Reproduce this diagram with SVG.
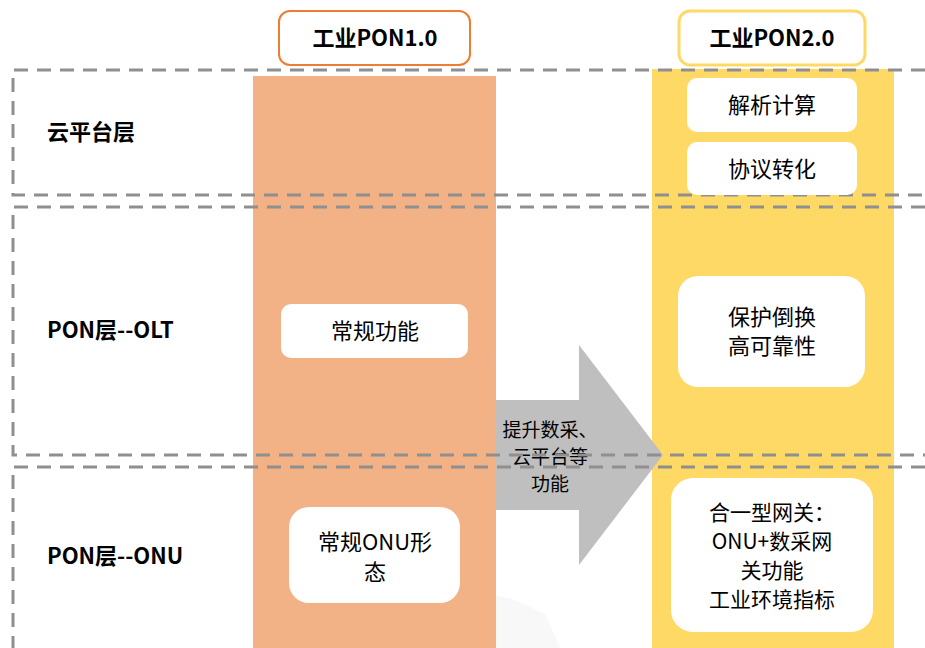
<svg xmlns="http://www.w3.org/2000/svg" width="925" height="648" viewBox="0 0 925 648">
<style>
text{font-family:"Noto Sans CJK SC","Liberation Sans",sans-serif;fill:#000}
.lbl{font-size:22px;font-weight:bold}
.hdr{font-size:22px;font-weight:bold;text-anchor:middle}
.t{font-size:22px;text-anchor:middle}
.t2{font-size:21px;text-anchor:middle}
.at{font-size:19px;text-anchor:middle}
.box{fill:#fff}
.dash{fill:none;stroke:#8f8f8f;stroke-width:3;stroke-dasharray:14 9}
</style>
<rect width="925" height="648" fill="#fff"/>
<path d="M380 648 L395 612 L430 598 L470 592 L510 598 L545 614 L560 648 Z" fill="#f8f8f8"/>
<g id="col1"><rect x="253" y="76" width="243" height="572" fill="#F3B186"/></g>
<g id="col2"><rect x="652" y="69" width="242" height="579" fill="#FFD966"/></g>
<g id="arrow"><polygon points="496,400 579,400 579,345 663,455 579,565 579,510 496,510" fill="#BFBFBF"/>
<text class="at" x="550" y="437">提升数采、</text><text class="at" x="550" y="464">云平台等</text><text class="at" x="550" y="491">功能</text></g>
<g id="layers">
<path class="dash" d="M925 70 H13 V195 H925"/>
<path class="dash" d="M925 207 H13 V455 H925"/>
<path class="dash" d="M925 467 H13 V648"/>
</g>
<g id="h1"><rect x="279" y="11" width="191" height="54" rx="11" fill="#fff" stroke="#ED7D31" stroke-width="2"/><text class="hdr" x="375" y="46">工业PON1.0</text></g>
<g id="h2"><rect x="679" y="11" width="186" height="54" rx="11" fill="#fff" stroke="#FFD966" stroke-width="3"/><text class="hdr" x="772" y="46">工业PON2.0</text></g>
<g id="l1"><text class="lbl" x="47" y="140">云平台层</text></g>
<g id="l2"><text class="lbl" x="47" y="338">PON层--OLT</text></g>
<g id="l3"><text class="lbl" x="47" y="564">PON层--ONU</text></g>
<g id="n1"><rect class="box" x="687" y="78" width="170" height="54" rx="10"/><text class="t" x="772" y="113">解析计算</text></g>
<g id="n2"><rect class="box" x="687" y="142" width="170" height="53" rx="10"/><text class="t" x="772" y="177">协议转化</text></g>
<g id="n3"><rect class="box" x="281" y="304" width="187" height="54" rx="10"/><text class="t" x="375" y="339">常规功能</text></g>
<g id="n4"><rect class="box" x="678" y="276" width="187" height="111" rx="20"/><text class="t" x="772" y="325">保护倒换</text><text class="t" x="772" y="354">高可靠性</text></g>
<g id="n5"><rect class="box" x="289" y="507" width="171" height="96" rx="20"/><text class="t" x="375" y="550">常规ONU形</text><text class="t" x="375" y="580">态</text></g>
<g id="n6"><rect class="box" x="671" y="478" width="202" height="154" rx="22"/><text class="t2" x="772" y="520">合一型网关：</text><text class="t2" x="772" y="549">ONU+数采网</text><text class="t2" x="772" y="578">关功能</text><text class="t2" x="772" y="607">工业环境指标</text></g>
</svg>
